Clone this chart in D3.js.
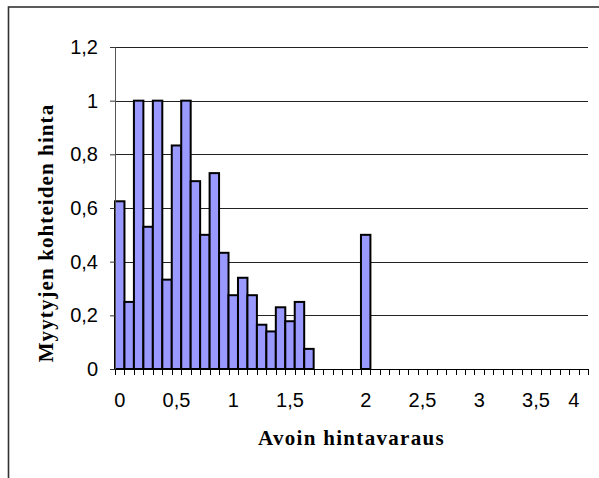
<!DOCTYPE html>
<html>
<head>
<meta charset="utf-8">
<script src="https://cdn.jsdelivr.net/npm/d3@7"></script>
<style>
  body { margin: 0; background: #fff; }
</style>
</head>
<body>
<script>
let width = 599, height = 478

// histogram bins: 50 category slots, only some have a label
let slotCount = 50
let barSlots = [0, 1, 2, 3, 4, 5, 6, 7, 8, 9, 10, 11, 12, 13, 14, 15, 16, 17, 18, 19, 20, 26]
let barValues = [0.625, 0.25, 1, 0.53, 1, 0.333, 0.833, 1, 0.7, 0.5, 0.73, 0.433,
    0.275, 0.34, 0.275, 0.165, 0.14, 0.23, 0.178, 0.25, 0.075, 0.5]
let labelSlots = [0, 6, 12, 18, 26, 32, 38, 44, 48]
let labelTexts = ["0", "0,5", "1", "1,5", "2", "2,5", "3", "3,5", "4"]
let yTicks = [0, 0.2, 0.4, 0.6, 0.8, 1, 1.2]

let plotLeft = 115, plotRight = 588, plotTop = 47, plotBottom = 369
let sans = "'Liberation Sans', Arial, sans-serif"
let serif = "'Liberation Serif', 'Times New Roman', serif"

let svg = d3.select("body").append("svg")
    .attr("width", width)
    .attr("height", height)

// chart area border (right / bottom edges fall outside the picture)
svg.append("rect")
    .attr("x", 8.5).attr("y", 7)
    .attr("width", 700).attr("height", 600)
    .attr("fill", "none")
    .attr("stroke", "#333")
    .attr("stroke-width", 1.6)

let x = d3.scaleBand()
    .domain(d3.range(slotCount))
    .range([plotLeft, plotRight])
    .paddingInner(0).paddingOuter(0)

let y = d3.scaleLinear()
    .domain([0, 1.2])
    .range([plotBottom, plotTop])

let fmt = d => d3.format(".1~f")(d).replace(".", ",")

// gridlines
svg.append("g").selectAll("line")
    .data(yTicks.filter(d => d > 0))
    .enter().append("line")
    .attr("x1", plotLeft).attr("x2", plotRight)
    .attr("y1", d => Math.round(y(d)) + 0.5)
    .attr("y2", d => Math.round(y(d)) + 0.5)
    .attr("stroke", "#222")
    .attr("stroke-width", 1)

// bars
let bars = barSlots.map((s, i) => ({slot: s, value: barValues[i]}))
svg.append("g").selectAll("rect")
    .data(bars)
    .enter().append("rect")
    .attr("x", d => x(d.slot))
    .attr("y", d => y(d.value))
    .attr("width", x.bandwidth())
    .attr("height", d => y(0) - y(d.value))
    .attr("fill", "#9999ff")
    .attr("stroke", "#000")
    .attr("stroke-width", 2)

// y axis
let yAxis = svg.append("g")
    .attr("transform", "translate(" + plotLeft + ",0)")
    .call(d3.axisLeft(y).tickValues(yTicks).tickFormat(fmt).tickSize(5).tickPadding(12))
yAxis.select(".domain").attr("stroke", "#555")
yAxis.selectAll(".tick line").attr("stroke", "#333")
yAxis.selectAll("text")
    .style("font-family", sans)
    .style("font-size", "20px")
    .attr("fill", "#000")

// x axis line and slot ticks
let xg = svg.append("g")
xg.append("line")
    .attr("x1", plotLeft).attr("x2", plotRight)
    .attr("y1", plotBottom + 0.5).attr("y2", plotBottom + 0.5)
    .attr("stroke", "#000")
xg.selectAll(".slotTick")
    .data(d3.range(slotCount + 1))
    .enter().append("line")
    .attr("class", "slotTick")
    .attr("x1", d => Math.round(plotLeft + d * x.step()) + 0.5)
    .attr("x2", d => Math.round(plotLeft + d * x.step()) + 0.5)
    .attr("y1", plotBottom).attr("y2", plotBottom + 6)
    .attr("stroke", "#000")

xg.selectAll(".xlabel")
    .data(labelSlots)
    .enter().append("text")
    .attr("class", "xlabel")
    .attr("x", d => x(d) + x.bandwidth() / 2)
    .attr("y", 407)
    .attr("text-anchor", "middle")
    .style("font-family", sans)
    .style("font-size", "20px")
    .text((d, i) => labelTexts[i])

// axis titles
svg.append("text")
    .attr("x", (plotLeft + plotRight) / 2)
    .attr("y", 445)
    .attr("text-anchor", "middle")
    .style("font-family", serif)
    .style("font-weight", "bold")
    .style("font-size", "21px")
    .style("letter-spacing", "1.3px")
    .text("Avoin hintavaraus")

svg.append("text")
    .attr("transform", "translate(53,233) rotate(-90)")
    .attr("text-anchor", "middle")
    .style("font-family", serif)
    .style("font-weight", "bold")
    .style("font-size", "21px")
    .style("letter-spacing", "1.1px")
    .text("Myytyjen kohteiden hinta")
</script>
</body>
</html>
